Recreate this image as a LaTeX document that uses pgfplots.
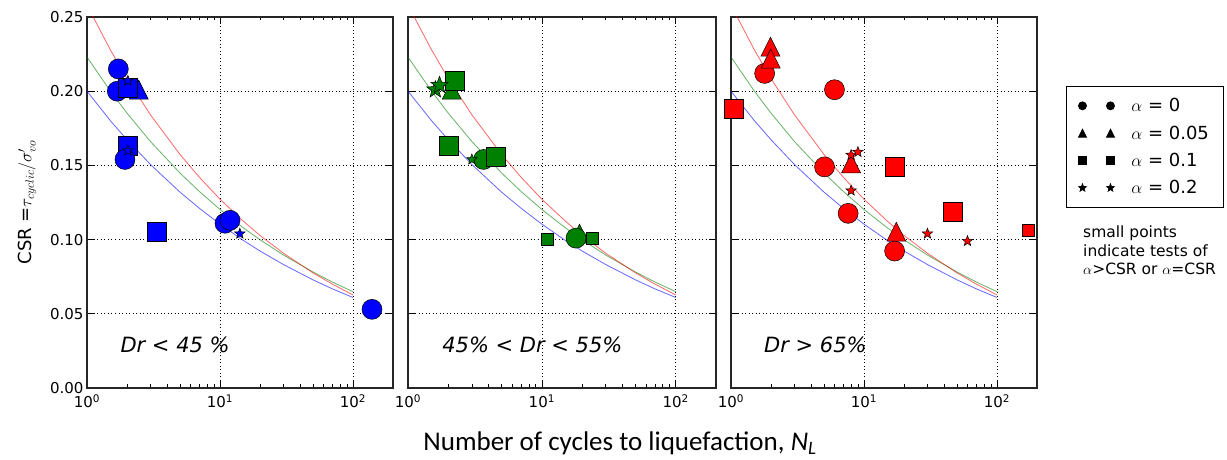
\documentclass[border=0pt]{standalone}
\usepackage{fontspec}
\setmainfont{DejaVu Sans}
\newfontfamily\carlito{Carlito}
\usepackage{pgfplots}
\usepackage{pgfplotstable}
\pgfplotsset{compat=1.18}

\definecolor{mblue}{rgb}{0,0,1}
\definecolor{mgreen}{rgb}{0,0.5,0}
\definecolor{mred}{rgb}{1,0,0}

\pgfdeclareplotmark{mtri}{%
  \pgfpathmoveto{\pgfqpoint{0pt}{\pgfplotmarksize}}%
  \pgfpathlineto{\pgfqpoint{-\pgfplotmarksize}{-\pgfplotmarksize}}%
  \pgfpathlineto{\pgfqpoint{\pgfplotmarksize}{-\pgfplotmarksize}}%
  \pgfpathclose\pgfusepathqfillstroke}
\pgfdeclareplotmark{fstar}{%
  \pgfpathmoveto{\pgfpointpolar{90}{\pgfplotmarksize}}%
  \pgfpathlineto{\pgfpointpolar{126}{0.42\pgfplotmarksize}}%
  \pgfpathlineto{\pgfpointpolar{162}{\pgfplotmarksize}}%
  \pgfpathlineto{\pgfpointpolar{198}{0.42\pgfplotmarksize}}%
  \pgfpathlineto{\pgfpointpolar{234}{\pgfplotmarksize}}%
  \pgfpathlineto{\pgfpointpolar{270}{0.42\pgfplotmarksize}}%
  \pgfpathlineto{\pgfpointpolar{306}{\pgfplotmarksize}}%
  \pgfpathlineto{\pgfpointpolar{342}{0.42\pgfplotmarksize}}%
  \pgfpathlineto{\pgfpointpolar{18}{\pgfplotmarksize}}%
  \pgfpathlineto{\pgfpointpolar{54}{0.42\pgfplotmarksize}}%
  \pgfpathclose\pgfusepathqfillstroke}

\pgfplotstableread{
N csr
1 0.2000
1.5 0.1801
2 0.1673
3 0.1506
5 0.1320
7 0.1211
10 0.1104
15 0.0994
20 0.0923
30 0.0832
50 0.0729
70 0.0668
100 0.0610
}\bluecurve
\pgfplotstableread{
N csr
1 0.2230
1.5 0.2000
2 0.1852
3 0.1661
5 0.1449
7 0.1324
10 0.1203
15 0.1079
20 0.0999
30 0.0896
50 0.0782
70 0.0714
100 0.0649
}\greencurve
\pgfplotstableread{
N csr
1 0.2580
1.5 0.2278
2 0.2085
3 0.1841
5 0.1574
7 0.1420
10 0.1272
15 0.1124
20 0.1028
30 0.0908
50 0.0776
70 0.0700
100 0.0627
}\redcurve

\pgfplotsset{
  every axis/.append style={
    scale only axis, height=371pt,
    xmin=1, xmax=200, ymin=0, ymax=0.25,
    xtick={1,10,100},
    xticklabels={10\textsuperscript{0},10\textsuperscript{1},10\textsuperscript{2}},
    minor xtick={2,3,4,5,6,7,8,9,20,30,40,50,60,70,80,90,200},
    ytick={0,0.05,0.1,0.15,0.2,0.25},
    tick align=inside,
    major tick length=7pt, minor tick length=3.5pt,
    grid=major,
    major grid style={black, line width=0.6pt, dash pattern=on 1pt off 2.5pt},
    axis line style={black!85, line width=1.2pt},
    every tick label/.append style={font=\fontsize{15}{17}\selectfont},
    every x tick label/.append style={yshift=-3pt},
  },
  every tick/.append style={black, line width=0.6pt},
}

\begin{document}
\begin{tikzpicture}
\useasboundingbox (0pt,0pt) rectangle (1227pt,460pt);

% ---------- Panel 1 ----------
\begin{semilogxaxis}[width=306pt, at={(87pt,72pt)}, anchor=south west,
  yticklabels={0.00,0.05,0.10,0.15,0.20,0.25},
  ylabel={CSR =$\tau_{cyclic}/\sigma'_{vo}$},
  ylabel style={font=\fontsize{18}{20}\selectfont},
  ylabel shift=7pt,
]
\addplot[mblue, opacity=0.6, line width=0.8pt] table[x=N,y=csr]{\bluecurve};
\addplot[mgreen, opacity=0.6, line width=0.8pt] table[x=N,y=csr]{\greencurve};
\addplot[mred, opacity=0.6, line width=0.8pt] table[x=N,y=csr]{\redcurve};
\addplot[only marks, mark=mtri, mark size=9.5pt, mark options={fill=mblue, draw=black, line width=0.5pt}] coordinates {(2.45,0.201)};
\addplot[only marks, mark=*, mark size=10pt, mark options={fill=mblue, draw=black, line width=0.5pt}] coordinates {(1.72,0.215) (1.69,0.200) (10.9,0.111) (11.9,0.113) (139,0.053)};
\addplot[only marks, mark=square*, mark size=9.5pt, mark options={fill=mblue, draw=black, line width=0.5pt}] coordinates {(2.03,0.202) (2.03,0.163) (3.37,0.105)};
\addplot[only marks, mark=*, mark size=10pt, mark options={fill=mblue, draw=black, line width=0.5pt}] coordinates {(1.93,0.154)};
\addplot[only marks, mark=fstar, mark size=5.5pt, mark options={fill=mblue, draw=black, line width=0.5pt}] coordinates {(2.03,0.207) (2.03,0.160) (14.1,0.104)};
\node[anchor=west, font=\fontsize{21}{24}\selectfont\itshape] at (rel axis cs:0.098,0.115) {Dr < 45 \%};
\end{semilogxaxis}

% ---------- Panel 2 ----------
\begin{semilogxaxis}[width=308pt, at={(408pt,72pt)}, anchor=south west,
  yticklabels={},
]
\addplot[mblue, opacity=0.6, line width=0.8pt] table[x=N,y=csr]{\bluecurve};
\addplot[mgreen, opacity=0.6, line width=0.8pt] table[x=N,y=csr]{\greencurve};
\addplot[mred, opacity=0.6, line width=0.8pt] table[x=N,y=csr]{\redcurve};
\addplot[only marks, mark=mtri, mark size=9.5pt, mark options={fill=mgreen, draw=black, line width=0.5pt}] coordinates {(2.12,0.201) (19.1,0.104)};
\addplot[only marks, mark=*, mark size=10pt, mark options={fill=mgreen, draw=black, line width=0.5pt}] coordinates {(3.67,0.154) (18.0,0.101)};
\addplot[only marks, mark=square*, mark size=9.5pt, mark options={fill=mgreen, draw=black, line width=0.5pt}] coordinates {(2.25,0.207) (2.03,0.163) (4.54,0.156)};
\addplot[only marks, mark=square*, mark size=6pt, mark options={fill=mgreen, draw=black, line width=0.5pt}] coordinates {(10.9,0.1004) (23.8,0.101)};
\addplot[only marks, mark=fstar, mark size=9pt, mark options={fill=mgreen, draw=black, line width=0.5pt}] coordinates {(1.6,0.201) (1.72,0.204)};
\addplot[only marks, mark=fstar, mark size=5.5pt, mark options={fill=mgreen, draw=black, line width=0.5pt}] coordinates {(3.0,0.154)};
\node[anchor=west, font=\fontsize{21}{24}\selectfont\itshape] at (rel axis cs:0.1,0.115) {45\% < Dr < 55\%};
\end{semilogxaxis}

% ---------- Panel 3 ----------
\begin{semilogxaxis}[width=306pt, at={(731pt,72pt)}, anchor=south west,
  yticklabels={},
  legend style={at={(1.095,0.814)}, anchor=north west, draw=black, line width=0.8pt,
    fill=white, font=\fontsize{18}{21}\selectfont, row sep=8.5pt,
    inner xsep=12pt, inner ysep=10pt,
    /tikz/every odd column/.append style={column sep=8pt}},
  legend cell align=left,
  legend image code/.code={\path[#1, draw=none] plot coordinates {(0pt,0pt) (28pt,0pt)};},
]
\addlegendimage{black, mark=*, mark size=4pt}
\addlegendentry{\hspace{7pt}$\alpha$ = 0\hspace{-7pt}}
\addlegendimage{black, mark=mtri, mark size=4pt}
\addlegendentry{\hspace{7pt}$\alpha$ = 0.05\hspace{-7pt}}
\addlegendimage{black, mark=square*, mark size=3.8pt}
\addlegendentry{\hspace{7pt}$\alpha$ = 0.1\hspace{-7pt}}
\addlegendimage{black, mark=fstar, mark size=4pt}
\addlegendentry{\hspace{7pt}$\alpha$ = 0.2\hspace{-7pt}}
\addplot[mblue, opacity=0.6, line width=0.8pt] table[x=N,y=csr]{\bluecurve};
\addplot[mgreen, opacity=0.6, line width=0.8pt] table[x=N,y=csr]{\greencurve};
\addplot[mred, opacity=0.6, line width=0.8pt] table[x=N,y=csr]{\redcurve};
\addplot[only marks, mark=*, mark size=10pt, mark options={fill=mred, draw=black, line width=0.5pt}] coordinates {(1.79,0.212) (6.0,0.201) (5.05,0.149) (7.6,0.1177) (17.0,0.0923)};
\addplot[only marks, mark=mtri, mark size=9.5pt, mark options={fill=mred, draw=black, line width=0.5pt}] coordinates {(1.98,0.230) (1.99,0.222) (8.0,0.1514) (17.5,0.1053)};
\addplot[only marks, mark=square*, mark size=9.5pt, mark options={fill=mred, draw=black, line width=0.5pt}] coordinates {(1.05,0.188) (17.0,0.149) (46.3,0.1188)};
\addplot[only marks, mark=square*, mark size=6pt, mark options={fill=mred, draw=black, line width=0.5pt}] coordinates {(173,0.1065)};
\addplot[only marks, mark=fstar, mark size=5.5pt, mark options={fill=mred, draw=black, line width=0.5pt}] coordinates {(8.0,0.157) (9.0,0.159) (8.0,0.133) (30,0.104) (60,0.099)};
\node[anchor=west, font=\fontsize{21}{24}\selectfont\itshape] at (rel axis cs:0.097,0.115) {Dr > 65\%};
\end{semilogxaxis}

\node[anchor=north west, align=left, font=\fontsize{15.5}{18.5}\selectfont, inner sep=0pt]
  at (1083pt,234pt) {small points\\indicate tests of\\$\alpha$>CSR or $\alpha$=CSR};

\node[font=\fontsize{27}{30}\selectfont\carlito, anchor=base] at (620pt,9pt)
  {Number of cycles to liquefaction, \textit{N\textsubscript{L}}};
\end{tikzpicture}
\end{document}
